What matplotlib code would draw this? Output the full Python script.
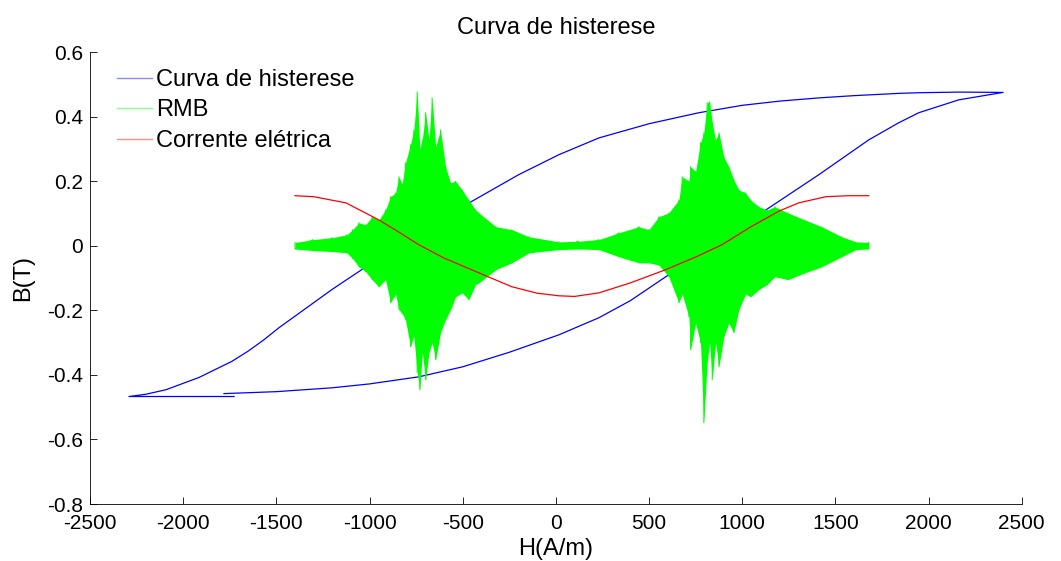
import numpy as np
import matplotlib
matplotlib.use('Agg')
import matplotlib.pyplot as plt
from matplotlib.lines import Line2D

plt.rcParams['font.family'] = ['Liberation Sans', 'DejaVu Sans']
plt.rcParams['axes.unicode_minus'] = False

# hysteresis loop: lower branch (H rising), then upper branch (H falling)
h_lower = [-1781, -1500, -1200, -1000, -735, -500, -250, 16, 231, 400, 590, 800, 1000, 1127, 1411, 1679, 1840, 1947, 2162, 2400]
b_lower = [-0.458, -0.452, -0.44, -0.428, -0.406, -0.375, -0.33, -0.276, -0.223, -0.17, -0.096, -0.015, 0.062, 0.111, 0.22, 0.328, 0.381, 0.412, 0.452, 0.475]
h_upper = [2400, 2162, 1947, 1840, 1600, 1411, 1200, 1000, 767, 500, 231, 16, -200, -413, -558, -750, -987, -1200,
           -1486, -1566, -1650, -1738, -1915, -2092, -2200, -2291, -1727]
b_upper = [0.475, 0.476, 0.474, 0.472, 0.465, 0.458, 0.448, 0.435, 0.412, 0.378, 0.334, 0.282, 0.22, 0.15, 0.102, 0.035, -0.053, -0.135,
           -0.254, -0.291, -0.326, -0.358, -0.408, -0.446, -0.46, -0.467, -0.467]

# RMB noise band, read as top / bottom envelope
rmb_h = [-1400, -1303, -1200, -1121, -1090, -1057, -1021, -986, -950, -914, -887, -860, -842, -825, -807, -780, -762, -744, -730,
         -717, -699, -681, -664, -645, -619, -592, -565, -538, -503, -467, -431, -413, -322, -236, -145, 16, 120,
         231, 338, 445, 499, 553, 606, 660, 678, 714, 723, 750, 776, 794, 812, 825, 839, 857, 875, 901, 928, 955,
         982, 1018, 1045, 1089, 1134, 1175, 1245, 1336, 1427, 1534, 1610, 1679]
rmb_top = [0.01, 0.019, 0.025, 0.034, 0.05, 0.071, 0.065, 0.09, 0.08, 0.111, 0.152, 0.164, 0.214, 0.19, 0.257, 0.313, 0.359, 0.477, 0.3,
           0.328, 0.412, 0.33, 0.458, 0.307, 0.359, 0.245, 0.195, 0.2, 0.173, 0.142, 0.111, 0.102, 0.059, 0.05, 0.028, 0.012, 0.014,
           0.019, 0.04, 0.059, 0.05, 0.09, 0.102, 0.142, 0.214, 0.2, 0.245, 0.23, 0.319, 0.35, 0.443, 0.446, 0.381, 0.328, 0.35, 0.276, 0.245, 0.204,
           0.173, 0.164, 0.142, 0.121, 0.111, 0.121, 0.102, 0.08, 0.059, 0.028, 0.012, 0.01]
rmb_bot = [-0.01, -0.015, -0.018, -0.022, -0.04, -0.065, -0.08, -0.105, -0.127, -0.105, -0.176, -0.15, -0.198, -0.21, -0.229, -0.313, -0.28, -0.393, -0.446,
           -0.33, -0.415, -0.331, -0.3, -0.353, -0.269, -0.229, -0.198, -0.158, -0.146, -0.167, -0.12, -0.115, -0.074, -0.053, -0.022, -0.012, -0.01,
           -0.012, -0.034, -0.053, -0.053, -0.06, -0.096, -0.176, -0.15, -0.22, -0.322, -0.24, -0.3, -0.548, -0.362, -0.3, -0.415, -0.3, -0.375, -0.282, -0.24, -0.269,
           -0.198, -0.15, -0.158, -0.136, -0.12, -0.096, -0.105, -0.084, -0.065, -0.034, -0.012, -0.01]

# excitation current
cur_h = [-1400, -1300, -1127, -950, -850, -735, -600, -413, -236, -100, 16, 100, 231, 400, 590, 750, 891, 1050, 1200, 1304, 1450, 1572, 1679]
cur_b = [0.155, 0.152, 0.133, 0.08, 0.045, 0.003, -0.038, -0.084, -0.127, -0.147, -0.155, -0.157, -0.146, -0.115, -0.074, -0.035, 0.003, 0.06, 0.108, 0.133, 0.152, 0.155, 0.155]

labels = ['Curva de histerese', 'RMB', 'Corrente elétrica']

fig = plt.figure(figsize=(10.61, 5.61), dpi=100)
ax = fig.add_axes([0.0848, 0.1016, 0.8782, 0.8056])

ax.plot(h_lower + h_upper, b_lower + b_upper, color='#0000ff', lw=0.9, zorder=2)

ax.fill_between(rmb_h, rmb_bot, rmb_top, color='#00ff00', lw=0, zorder=2.2)
zz_h = np.repeat(rmb_h, 2)
zz_b = np.ravel(np.column_stack([rmb_top, rmb_bot]))
ax.plot(zz_h, zz_b, color='#00ff00', lw=0.7, zorder=2.3)

ax.plot(cur_h, cur_b, color='#ff0000', lw=0.9, zorder=3)

ax.set_xlim(-2500, 2500)
ax.set_ylim(-0.8, 0.6)
ax.set_xticks(np.arange(-2500, 2501, 500))
ax.set_yticks(np.round(np.arange(-0.8, 0.61, 0.2), 1))
ax.set_yticklabels(['-0.8', '-0.6', '-0.4', '-0.2', '0', '0.2', '0.4', '0.6'])
ax.spines['top'].set_visible(False)
ax.spines['right'].set_visible(False)
for s in ['left', 'bottom']:
    ax.spines[s].set_linewidth(0.6)
ax.tick_params(direction='in', length=5, width=0.6, pad=5, labelsize=15)
ax.tick_params(axis='x', pad=7)

ax.set_title('Curva de histerese', fontsize=17, pad=13)
ax.set_xlabel('H(A/m)', fontsize=17, labelpad=4)
ax.set_ylabel('B(T)', fontsize=17, labelpad=9)

# legend swatches are drawn pale in the original
handles = [Line2D([], [], color=c, lw=1.0) for c in ['#8c8cff', '#8cff8c', '#ff8c8c']]
ax.legend(handles, labels, loc='upper left', frameon=False, fontsize=17, handlelength=1.5,
          handletextpad=0.15, labelspacing=0.36, borderpad=0, borderaxespad=0,
          bbox_to_anchor=(0.029, 0.963))

fig.savefig('out.png', dpi=100)
